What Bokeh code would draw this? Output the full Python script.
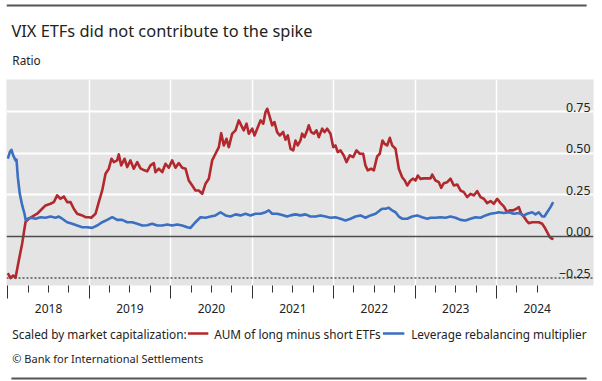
from bokeh.plotting import figure
from bokeh.layouts import column
from bokeh.models import FixedTicker, LinearAxis, Label, Span, Range1d
from bokeh.core.properties import value
from bokeh.embed import file_html
from bokeh.resources import INLINE

# Weekly-ish readings, x in decimal years
red_t = [2018.000, 2018.033, 2018.066, 2018.095, 2018.135, 2018.177, 2018.217, 2018.258,
         2018.300, 2018.361, 2018.422, 2018.463, 2018.524, 2018.565, 2018.606, 2018.647,
         2018.688, 2018.729, 2018.770, 2018.810, 2018.852, 2018.913, 2018.954, 2018.994,
         2019.024, 2019.077, 2019.117, 2019.159, 2019.200, 2019.240, 2019.273, 2019.301,
         2019.343, 2019.363, 2019.392, 2019.433, 2019.466, 2019.506, 2019.547, 2019.589,
         2019.629, 2019.670, 2019.711, 2019.752, 2019.793, 2019.813, 2019.854, 2019.896,
         2019.936, 2019.977, 2020.018, 2020.059, 2020.099, 2020.141, 2020.182, 2020.222,
         2020.264, 2020.304, 2020.345, 2020.387, 2020.427, 2020.468, 2020.509, 2020.550,
         2020.591, 2020.620, 2020.652, 2020.685, 2020.713, 2020.755, 2020.796, 2020.836,
         2020.866, 2020.897, 2020.931, 2020.959, 2021.001, 2021.029, 2021.062, 2021.103,
         2021.136, 2021.164, 2021.185, 2021.217, 2021.246, 2021.274, 2021.307, 2021.339,
         2021.381, 2021.409, 2021.438, 2021.471, 2021.504, 2021.532, 2021.560, 2021.593,
         2021.614, 2021.642, 2021.676, 2021.695, 2021.725, 2021.757, 2021.790, 2021.818,
         2021.860, 2021.888, 2021.921, 2021.962, 2021.995, 2022.023, 2022.051, 2022.085,
         2022.125, 2022.158, 2022.199, 2022.240, 2022.281, 2022.322, 2022.363, 2022.391,
         2022.420, 2022.461, 2022.494, 2022.535, 2022.567, 2022.600, 2022.625, 2022.658,
         2022.690, 2022.719, 2022.760, 2022.801, 2022.842, 2022.874, 2022.904, 2022.944,
         2022.977, 2023.006, 2023.034, 2023.067, 2023.107, 2023.149, 2023.190, 2023.211,
         2023.251, 2023.292, 2023.321, 2023.353, 2023.395, 2023.435, 2023.476, 2023.518,
         2023.558, 2023.599, 2023.640, 2023.681, 2023.721, 2023.763, 2023.804, 2023.844,
         2023.886, 2023.927, 2023.967, 2024.009, 2024.049, 2024.090, 2024.131, 2024.163,
         2024.205, 2024.245, 2024.274, 2024.303, 2024.335, 2024.368, 2024.396, 2024.438,
         2024.479, 2024.519, 2024.561, 2024.589, 2024.622, 2024.654, 2024.684, 2024.696]
red_v = [-0.220, -0.250, -0.235, -0.249, -0.145, -0.040, 0.086, 0.107,
         0.120, 0.137, 0.167, 0.187, 0.197, 0.207, 0.247, 0.227,
         0.241, 0.207, 0.207, 0.167, 0.137, 0.127, 0.116, 0.116,
         0.113, 0.137, 0.207, 0.277, 0.378, 0.408, 0.468, 0.448,
         0.458, 0.494, 0.428, 0.468, 0.418, 0.458, 0.408, 0.448,
         0.410, 0.400, 0.392, 0.428, 0.442, 0.387, 0.408, 0.387,
         0.438, 0.414, 0.458, 0.414, 0.442, 0.414, 0.408, 0.337,
         0.307, 0.277, 0.277, 0.257, 0.317, 0.348, 0.458, 0.498,
         0.538, 0.622, 0.548, 0.588, 0.538, 0.619, 0.639, 0.699,
         0.669, 0.639, 0.679, 0.619, 0.649, 0.608, 0.649, 0.699,
         0.679, 0.749, 0.769, 0.719, 0.669, 0.689, 0.628, 0.608,
         0.629, 0.583, 0.608, 0.528, 0.518, 0.578, 0.548, 0.578,
         0.619, 0.598, 0.639, 0.669, 0.628, 0.619, 0.639, 0.598,
         0.649, 0.628, 0.649, 0.619, 0.538, 0.548, 0.508, 0.518,
         0.488, 0.448, 0.488, 0.478, 0.518, 0.498, 0.498, 0.428,
         0.398, 0.408, 0.398, 0.482, 0.498, 0.578, 0.558, 0.548,
         0.594, 0.548, 0.528, 0.408, 0.357, 0.337, 0.307, 0.337,
         0.348, 0.337, 0.367, 0.347, 0.350, 0.350, 0.350, 0.373,
         0.337, 0.327, 0.293, 0.321, 0.327, 0.348, 0.307, 0.313,
         0.277, 0.267, 0.237, 0.257, 0.247, 0.273, 0.237, 0.227,
         0.201, 0.213, 0.197, 0.227, 0.201, 0.181, 0.146, 0.157,
         0.157, 0.167, 0.177, 0.137, 0.120, 0.096, 0.080, 0.086,
         0.086, 0.086, 0.077, 0.056, 0.026, -0.004, -0.014, -0.008]

blue_t = [2018.000, 2018.025, 2018.045, 2018.066, 2018.095, 2018.107, 2018.123, 2018.147,
          2018.177, 2018.205, 2018.221, 2018.246, 2018.287, 2018.340, 2018.401, 2018.463,
          2018.524, 2018.586, 2018.626, 2018.668, 2018.729, 2018.791, 2018.852, 2018.913,
          2018.975, 2019.036, 2019.098, 2019.159, 2019.220, 2019.282, 2019.343, 2019.404,
          2019.466, 2019.527, 2019.589, 2019.650, 2019.711, 2019.773, 2019.834, 2019.896,
          2019.957, 2020.018, 2020.080, 2020.141, 2020.203, 2020.243, 2020.304, 2020.366,
          2020.427, 2020.489, 2020.550, 2020.611, 2020.673, 2020.734, 2020.796, 2020.857,
          2020.918, 2020.980, 2021.041, 2021.103, 2021.164, 2021.204, 2021.246, 2021.307,
          2021.369, 2021.430, 2021.471, 2021.532, 2021.593, 2021.655, 2021.716, 2021.778,
          2021.839, 2021.901, 2021.962, 2022.023, 2022.085, 2022.146, 2022.208, 2022.269,
          2022.330, 2022.391, 2022.453, 2022.515, 2022.567, 2022.597, 2022.637, 2022.678,
          2022.719, 2022.760, 2022.801, 2022.842, 2022.904, 2022.965, 2023.026, 2023.088,
          2023.149, 2023.190, 2023.251, 2023.312, 2023.374, 2023.435, 2023.497, 2023.558,
          2023.619, 2023.681, 2023.742, 2023.804, 2023.865, 2023.927, 2023.988, 2024.028,
          2024.090, 2024.151, 2024.212, 2024.274, 2024.335, 2024.377, 2024.438, 2024.479,
          2024.519, 2024.561, 2024.589, 2024.622, 2024.663, 2024.696]
blue_v = [0.468, 0.508, 0.522, 0.488, 0.458, 0.462, 0.357, 0.257,
          0.187, 0.137, 0.096, 0.107, 0.113, 0.107, 0.116, 0.113,
          0.120, 0.113, 0.120, 0.107, 0.086, 0.077, 0.066, 0.056,
          0.056, 0.052, 0.066, 0.086, 0.100, 0.116, 0.100, 0.100,
          0.086, 0.086, 0.077, 0.066, 0.068, 0.077, 0.066, 0.066,
          0.072, 0.066, 0.072, 0.066, 0.056, 0.052, 0.086, 0.116,
          0.113, 0.120, 0.127, 0.146, 0.127, 0.120, 0.133, 0.127,
          0.137, 0.127, 0.137, 0.137, 0.146, 0.157, 0.137, 0.137,
          0.130, 0.120, 0.127, 0.133, 0.127, 0.133, 0.120, 0.120,
          0.127, 0.120, 0.113, 0.116, 0.107, 0.096, 0.107, 0.120,
          0.127, 0.113, 0.127, 0.137, 0.157, 0.167, 0.167, 0.173,
          0.157, 0.146, 0.120, 0.107, 0.107, 0.120, 0.127, 0.116,
          0.107, 0.113, 0.113, 0.116, 0.113, 0.120, 0.113, 0.100,
          0.096, 0.107, 0.116, 0.113, 0.127, 0.137, 0.141, 0.146,
          0.141, 0.146, 0.137, 0.141, 0.127, 0.137, 0.146, 0.133,
          0.146, 0.120, 0.120, 0.146, 0.177, 0.207]

years = [2018, 2019, 2020, 2021, 2022, 2023, 2024]
quarters = [y + q for y in years for q in (0.25, 0.5, 0.75)][:-1]
year_labels = {y + 0.5: str(y) for y in years}
y_ticks = [0.75, 0.50, 0.25, 0.00, -0.25]
y_tick_labels = ["0.75", "0.50", "0.25", "0.00", "\u22120.25"]

title_text = "VIX ETFs did not contribute to the spike"
unit_text = "Ratio"
legend_title = "Scaled by market capitalization:"
series_names = ["AUM of long minus short ETFs", "Leverage rebalancing multiplier"]
source_text = "\u00a9 Bank for International Settlements"

FONT = "Noto Sans"
TXT = "#222222"
RULE = "#555555"
RED = "#b3282d"
BLUE = "#3a6fc1"
W = 602
BODY = "11.8px"


def blank(height):
    """A bare figure in pixel coordinates (y grows downwards) for text rows."""
    f = figure(width=W, height=height, output_backend="svg", toolbar_location=None,
               x_range=Range1d(0, W), y_range=Range1d(height, 0),
               x_axis_location=None, y_axis_location=None,
               min_border=0, min_border_left=0, min_border_right=0,
               min_border_top=0, min_border_bottom=0)
    f.grid.visible = False
    f.outline_line_color = None
    f.background_fill_color = "white"
    return f


# ---- heading row -------------------------------------------------------
head = blank(79)
head.segment(x0=[0], y0=[5], x1=[595], y1=[5], line_color=RULE, line_width=2)
head.text(x=[5], y=[30], text=[title_text], text_font=value(FONT),
          text_font_size="16.4px", text_color=TXT, text_baseline="middle")
head.text(x=[6], y=[59], text=[unit_text], text_font=value(FONT),
          text_font_size=BODY, text_color=TXT, text_baseline="middle")

# ---- chart -------------------------------------------------------------
p = figure(width=W, height=246, output_backend="svg", toolbar_location=None,
           x_range=Range1d(2017.984, 2025.191), y_range=Range1d(-0.295, 0.945),
           y_axis_location=None, min_border_left=6, min_border_right=9,
           min_border_top=0, min_border_bottom=40)
p.background_fill_color = "#e4e4e4"
p.border_fill_color = "white"
p.outline_line_color = None

p.xgrid.ticker = FixedTicker(ticks=years[1:])
p.xgrid.grid_line_color = "white"
p.xgrid.grid_line_width = 1.5
p.ygrid.ticker = FixedTicker(ticks=[0.25, 0.5, 0.75])
p.ygrid.grid_line_color = "white"
p.ygrid.grid_line_width = 2

p.add_layout(Span(location=0, dimension="width", line_color="#4d4d4d", line_width=1.5))
p.add_layout(Span(location=-0.25, dimension="width", line_color=RULE,
                  line_width=1.5, line_dash="2 2"))

p.line(red_t, red_v, line_color=RED, line_width=2.6, line_join="round")
p.line(blue_t, blue_v, line_color=BLUE, line_width=2.6, line_join="round")

# tick marks at year boundaries and quarters
ax = p.xaxis[0]
ax.ticker = FixedTicker(ticks=years, minor_ticks=quarters)
ax.axis_line_color = None
ax.major_tick_in = 0
ax.major_tick_out = 13
ax.minor_tick_in = 0
ax.minor_tick_out = 7
ax.major_tick_line_color = "#333333"
ax.minor_tick_line_color = "#333333"
ax.major_label_overrides = {y: "" for y in years}
ax.major_label_text_font_size = "0px"
ax.major_label_standoff = 0

# second axis carrying the year names at mid-year
lab = LinearAxis(ticker=FixedTicker(ticks=list(year_labels.keys()), minor_ticks=[]),
                 major_label_overrides=year_labels, axis_line_color=None,
                 major_tick_in=0, major_tick_out=0, minor_tick_in=0, minor_tick_out=0,
                 major_label_standoff=5, major_label_text_font=FONT,
                 major_label_text_font_size="12px", major_label_text_color=TXT)
p.add_layout(lab, "below")

# y tick labels sit inside the plotting area, right aligned
for v, t in zip(y_ticks, y_tick_labels):
    p.add_layout(Label(x=584, x_units="screen", y=v, text=t, text_align="right",
                       text_baseline="bottom", text_font=FONT, text_font_size="12.4px",
                       text_color=TXT))

# ---- legend and source row --------------------------------------------
foot = blank(56)
foot.text(x=[6], y=[8], text=[legend_title], text_font=value(FONT),
          text_font_size=BODY, text_color=TXT, text_baseline="middle")
foot.segment(x0=[186, 386], y0=[8, 8], x1=[207, 408], y1=[8, 8],
             line_color=[RED, BLUE], line_width=2.6)
foot.text(x=[213, 415], y=[8, 8], text=series_names, text_font=value(FONT),
          text_font_size=BODY, text_color=TXT, text_baseline="middle")
foot.text(x=[6], y=[33], text=[source_text], text_font=value(FONT),
          text_font_size="11px", text_color=TXT, text_baseline="middle")
foot.segment(x0=[5], y0=[53], x1=[595], y1=[53], line_color=RULE, line_width=2)

page = column(head, p, foot, spacing=0)
open("out.html", "w").write(file_html(page, INLINE))
